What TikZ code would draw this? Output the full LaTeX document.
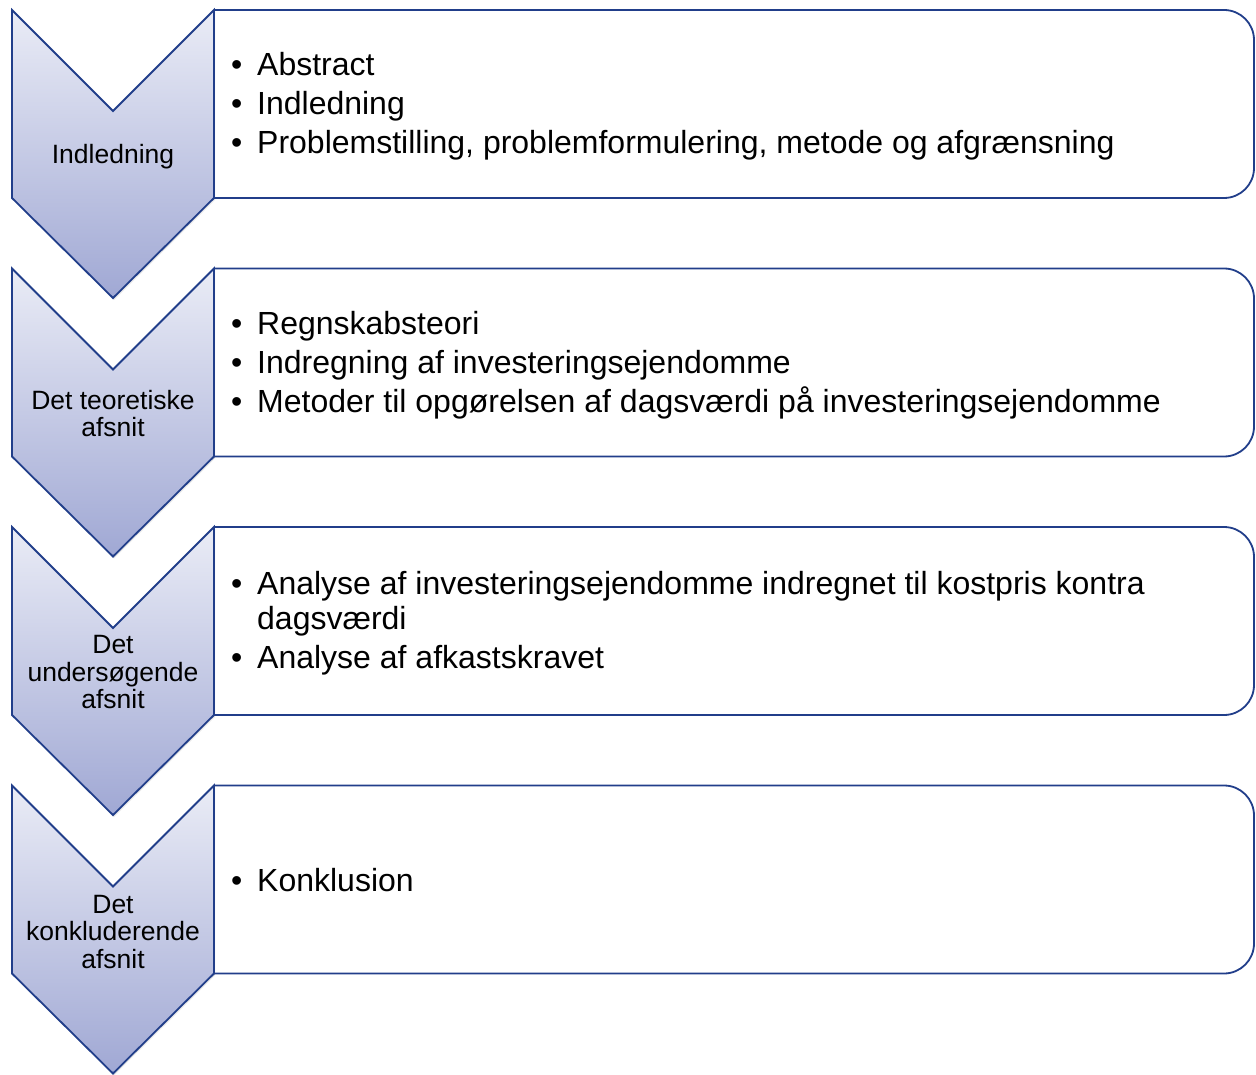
\documentclass[tikz,border=0pt]{standalone}
\usepackage{fontspec}
\setmainfont{Liberation Sans}
\usetikzlibrary{shadows}
\definecolor{edgeblue}{RGB}{33,62,138}
\definecolor{chevtop}{RGB}{234,236,246}
\definecolor{chevbot}{RGB}{160,168,212}
\tikzset{
  chev/.style={draw=edgeblue, line width=1.8pt, line join=miter, top color=chevtop, bottom color=chevbot,
    drop shadow={opacity=0.18, shadow xshift=1pt, shadow yshift=-2pt}},
  panel/.style={draw=edgeblue, line width=1.8pt, fill=white, rounded corners=30pt},
  chevlabel/.style={align=center, font=\fontsize{26.5}{27.5}\selectfont, inner sep=0pt},
  itemlist/.style={anchor=west, inner sep=0pt, font=\fontsize{32}{35}\selectfont},
}
\newcommand{\bitem}[1]{\par\noindent\hangindent=26pt\hangafter=1\makebox[26pt][l]{\textbullet}#1}
\newcommand{\itemblock}[1]{\parbox{1000pt}{\setlength{\parskip}{4pt}#1}}
\begin{document}
\begin{tikzpicture}[x=1pt,y=-1pt]
\useasboundingbox (0,0) rectangle (1256,1075);
\foreach \t/\n in {10/1,268.5/2,527/3,785.5/4}{
  \path[panel] (214,\t) -- (1254,\t) -- (1254,\t+188) -- (214,\t+188);
  \path[chev] (12,\t) -- (113,\t+101) -- (214,\t) -- (214,\t+188) -- (113,\t+288) -- (12,\t+188) -- cycle;
}
\node[chevlabel] (c1) at (113,157) {Indledning};
\node[chevlabel] (c2) at (113,413.5) {Det teoretiske\\afsnit};
\node[chevlabel] (c3) at (113,672.5) {Det\\undersøgende\\afsnit};
\node[chevlabel] (c4) at (113,932) {Det\\konkluderende\\afsnit};
\node[itemlist] (t1) at (231,106.5) {\itemblock{\bitem{Abstract}\bitem{Indledning}\bitem{Problemstilling, problemformulering, metode og afgrænsning}}};
\node[itemlist] (t2) at (231,365) {\itemblock{\bitem{Regnskabsteori}\bitem{Indregning af investeringsejendomme}\bitem{Metoder til opgørelsen af dagsværdi på investeringsejendomme}}};
\node[itemlist] (t3) at (231,623.5) {\itemblock{\bitem{Analyse af investeringsejendomme indregnet til kostpris kontra\newline dagsværdi}\bitem{Analyse af afkastskravet}}};
\node[itemlist] (t4) at (231,880.5) {\itemblock{\bitem{Konklusion}}};
\end{tikzpicture}
\end{document}
